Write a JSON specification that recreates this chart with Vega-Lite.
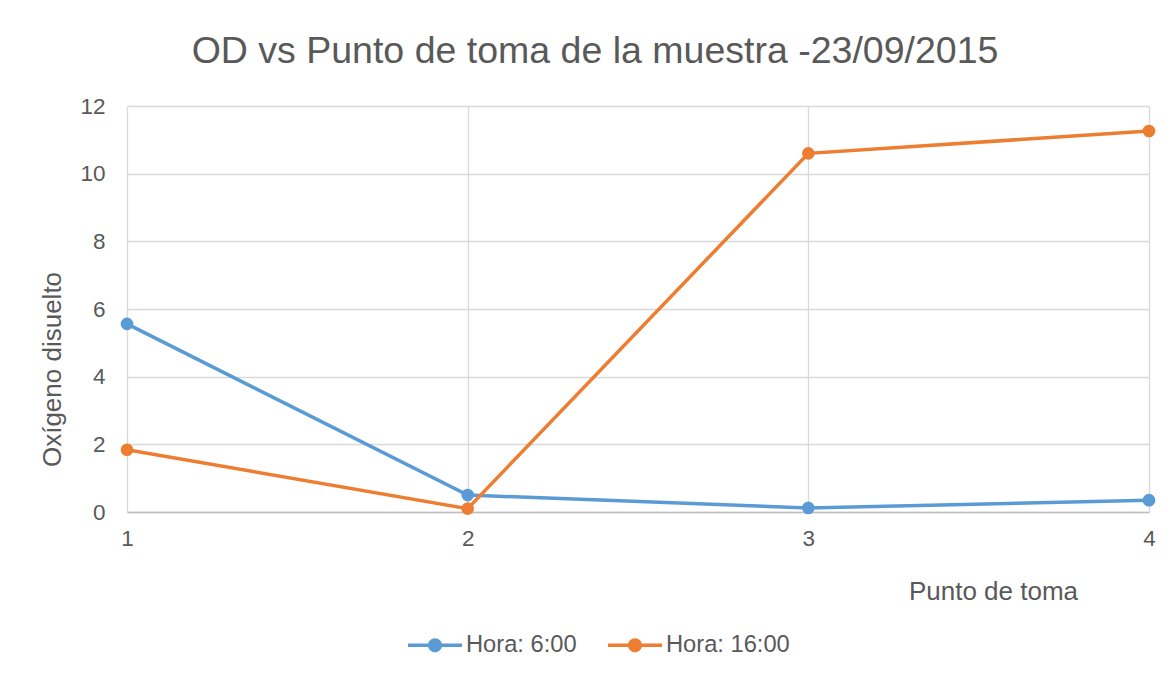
{
  "$schema": "https://vega.github.io/schema/vega-lite/v6.json",
  "autosize": {"type": "none"},
  "width": 1022,
  "height": 406,
  "padding": {"left": 127, "top": 106, "right": 21, "bottom": 165},
  "background": "white",
  "config": {
    "font": "Liberation Sans",
    "view": {"stroke": null},
    "axis": {"labelColor": "#595959", "titleColor": "#595959", "titleFontWeight": "normal", "gridColor": "#D9D9D9", "gridWidth": 1.3, "ticks": false}
  },
  "title": {
    "text": "OD vs Punto de toma de la muestra -23/09/2015",
    "fontSize": 37.5,
    "fontWeight": "normal",
    "color": "#595959",
    "anchor": "middle",
    "offset": 25,
    "dx": -43
  },
  "data": {
    "values": [
      {"punto": 1, "hora": "Hora: 6:00", "od": 5.56},
      {"punto": 2, "hora": "Hora: 6:00", "od": 0.5},
      {"punto": 3, "hora": "Hora: 6:00", "od": 0.12},
      {"punto": 4, "hora": "Hora: 6:00", "od": 0.35},
      {"punto": 1, "hora": "Hora: 16:00", "od": 1.84},
      {"punto": 2, "hora": "Hora: 16:00", "od": 0.1},
      {"punto": 3, "hora": "Hora: 16:00", "od": 10.6},
      {"punto": 4, "hora": "Hora: 16:00", "od": 11.26}
    ]
  },
  "encoding": {
    "x": {
      "field": "punto", "type": "quantitative",
      "scale": {"domain": [1, 4], "nice": false, "zero": false},
      "axis": {
        "title": "Punto de toma", "titleFontSize": 26, "titleX": 866, "titleY": 79, "titleAlign": "center", "titleBaseline": "middle",
        "values": [1, 2, 3, 4], "format": "d", "labelFontSize": 22.5, "labelPadding": 15, "labelFlush": false, "labelBound": false,
        "domain": true, "domainColor": "#BFBFBF", "domainWidth": 1.5, "grid": true
      }
    },
    "y": {
      "field": "od", "type": "quantitative",
      "scale": {"domain": [0, 12], "nice": false},
      "axis": {
        "title": "Oxígeno disuelto", "titleFontSize": 26, "titleX": -75, "titleY": 263, "titleAlign": "center", "titleBaseline": "middle", "titleAngle": -90,
        "values": [0, 2, 4, 6, 8, 10, 12], "labelFontSize": 22.5, "labelPadding": 22, "domain": false, "grid": true
      }
    },
    "color": {
      "field": "hora", "type": "nominal",
      "scale": {"domain": ["Hora: 6:00", "Hora: 16:00"], "range": ["#5B9BD5", "#ED7D31"]},
      "legend": {
        "title": null, "orient": "none", "direction": "horizontal", "legendX": 281, "legendY": 512,
        "symbolType": "M-1,-0.065L1,-0.065L1,0.065L-1,0.065ZM-0.26,0A0.26,0.26,0,1,1,0.26,0A0.26,0.26,0,1,1,-0.26,0Z",
        "symbolSize": 2916, "symbolStrokeWidth": 0, "labelFontSize": 23.7, "labelColor": "#595959", "labelOffset": 4, "columnPadding": 31,
        "encode": {"symbols": {"update": {"fill": {"scale": "color", "field": "value"}, "fillOpacity": {"value": 1}, "opacity": {"value": 1}, "strokeWidth": {"value": 0}}}}
      }
    }
  },
  "layer": [
    {"mark": {"type": "line", "strokeWidth": 3.5}},
    {"mark": {"type": "point", "filled": true, "size": 160, "opacity": 1}}
  ]
}
